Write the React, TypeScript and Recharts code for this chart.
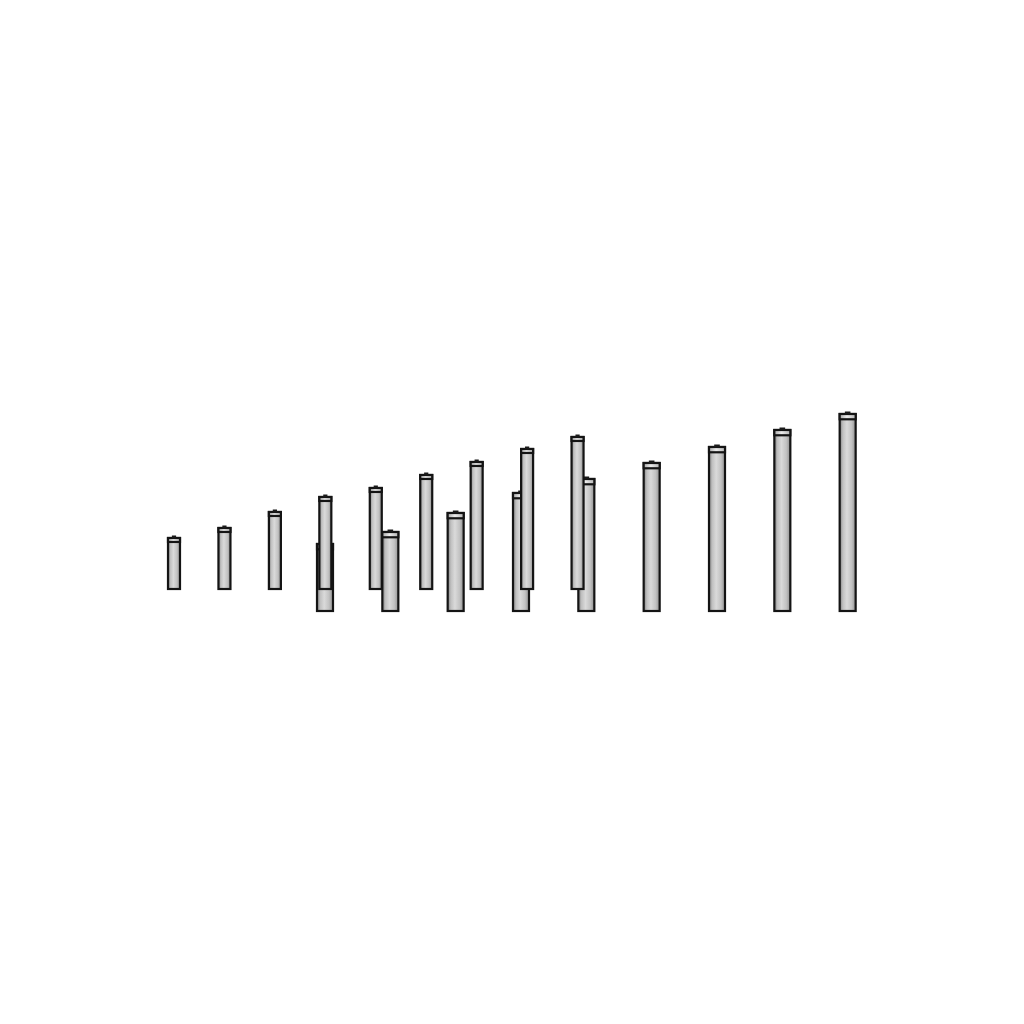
import { Bar, BarChart, XAxis, YAxis } from 'recharts';

// two rows of battery-shaped bars, back row sits higher and further left
const backCategories = ['1', '2', '3', '4', '5', '6', '7', '8', '9'];
const backValues = [51, 61, 77, 92, 101, 114, 127, 140, 152];

const frontCategories = ['1', '2', '3', '4', '5', '6', '7', '8', '9'];
const frontValues = [67, 79, 98, 118, 132, 148, 164, 181, 197];

const backData = backCategories.map((name, i) => ({ name, value: backValues[i] }));
const frontData = frontCategories.map((name, i) => ({ name, value: frontValues[i] }));

function Battery(props: any) {
  const { x, y, width, height } = props;
  if (!height || height <= 0) return null;
  const cap = Math.max(3.5, width * 0.33);
  const tipW = width * 0.35;
  return (
    <g>
      <rect
        x={x}
        y={y}
        width={width}
        height={height}
        fill="url(#batteryBody)"
        stroke="#141414"
        strokeWidth={2.2}
      />
      <rect
        x={x}
        y={y}
        width={width}
        height={cap}
        fill="url(#batteryCap)"
        stroke="#141414"
        strokeWidth={2.2}
      />
      <rect x={x + width / 2 - tipW / 2} y={y - 2.5} width={tipW} height={2.5} fill="#1a1a1a" />
    </g>
  );
}

export default function App() {
  return (
    <div style={{ position: 'fixed', left: 0, top: 0, width: 1024, height: 1024, background: '#fff' }}>
      <svg width={0} height={0} style={{ position: 'absolute' }}>
        <defs>
          <linearGradient id="batteryBody" x1="0" y1="0" x2="1" y2="0">
            <stop offset="0" stopColor="#808080" />
            <stop offset="0.2" stopColor="#c0c0c0" />
            <stop offset="0.45" stopColor="#dadada" />
            <stop offset="0.75" stopColor="#c2c2c2" />
            <stop offset="1" stopColor="#909090" />
          </linearGradient>
          <linearGradient id="batteryCap" x1="0" y1="0" x2="1" y2="0">
            <stop offset="0" stopColor="#a8a8a8" />
            <stop offset="0.45" stopColor="#ececec" />
            <stop offset="1" stopColor="#b4b4b4" />
          </linearGradient>
        </defs>
      </svg>
      <div style={{ position: 'absolute', left: 0, top: 0 }}>
        <BarChart
          width={1024}
          height={1024}
          data={frontData}
          margin={{ top: 411, right: 144, bottom: 413, left: 292 }}
        >
          <XAxis dataKey="name" hide />
          <YAxis hide domain={[0, 200]} />
          <Bar dataKey="value" barSize={16} shape={Battery} isAnimationActive={false} />
        </BarChart>
      </div>
      <div style={{ position: 'absolute', left: 0, top: 0 }}>
        <BarChart
          width={1024}
          height={1024}
          data={backData}
          margin={{ top: 389, right: 421, bottom: 435, left: 149 }}
        >
          <XAxis dataKey="name" hide />
          <YAxis hide domain={[0, 200]} />
          <Bar dataKey="value" barSize={12} shape={Battery} isAnimationActive={false} />
        </BarChart>
      </div>
    </div>
  );
}
